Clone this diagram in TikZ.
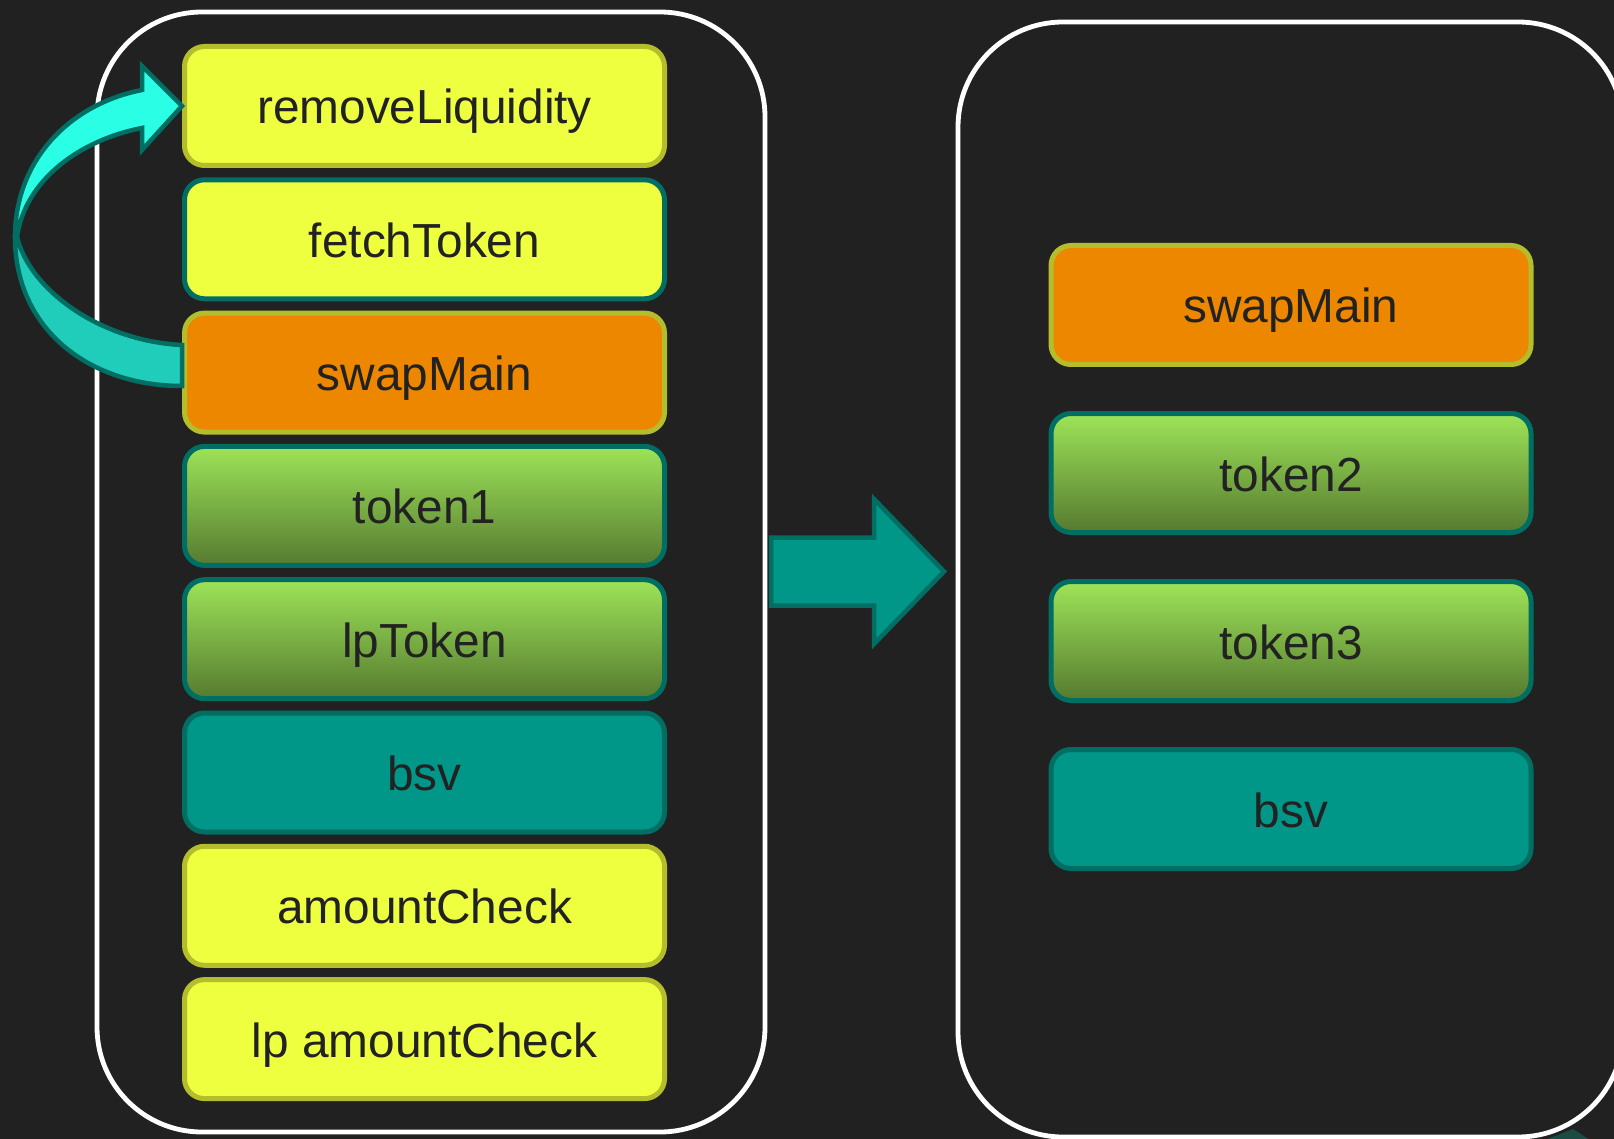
\documentclass[tikz,border=0pt]{standalone}
\usepackage{fontspec}
\setmainfont{Liberation Sans}
\begin{document}
\begin{tikzpicture}[x=1pt,y=-1pt,
  bg/.style={fill={rgb,255:red,33;green,33;blue,33}},
  frame/.style={draw=white,line width=4.8pt,rounded corners=105pt},
  block/.style={rectangle,rounded corners=20pt,line width=5pt,
    minimum width=480pt,minimum height=119pt,inner sep=0pt,
    text height=36pt,text depth=0pt,text=txt,
    font=\fontsize{47.8}{57}\selectfont},
  yel/.style={block,fill=ylw,draw=olv},
  yelt/.style={block,fill=ylw,draw=tealdk},
  org/.style={block,fill=orng,draw=olv},
  grn/.style={block,top color=grnhi,bottom color=grnlo,draw=tealdk},
  tea/.style={block,fill=tealmd,draw=tealdk},
  arrowline/.style={draw=tealdk,line width=4.5pt,line join=miter}
]
\definecolor{txt}{RGB}{34,34,34}
\definecolor{ylw}{RGB}{238,255,64}
\definecolor{olv}{RGB}{180,190,45}
\definecolor{orng}{RGB}{237,135,0}
\definecolor{grnhi}{RGB}{157,228,88}
\definecolor{grnlo}{RGB}{86,122,48}
\definecolor{tealmd}{RGB}{0,150,136}
\definecolor{tealdk}{RGB}{0,110,98}
\definecolor{cyanhi}{RGB}{42,255,230}
\definecolor{cyanlo}{RGB}{32,204,186}
\definecolor{tealsh}{RGB}{27,75,66}

\useasboundingbox (0,0) rectangle (1614,1139);
\clip (0,0) rectangle (1614,1139);
\path[bg] (0,0) rectangle (1614,1139);

% partial shape at the lower right edge
\fill[tealsh] (1545,1140) -- (1573,1129) -- (1590,1140) -- cycle;

% the two containers
\path[frame] (97,12) rectangle (765,1132);
\path[frame] (958,22) rectangle (1623,1137);

% left stack
\node[yel]  (rl)  at (424.5,106.0) {removeLiquidity};
\node[yelt] (ft)  at (424.5,239.3) {fetchToken};
\node[org]  (sm)  at (424.5,372.6) {swapMain};
\node[grn]  (t1)  at (424.5,505.9) {token1};
\node[grn]  (lpt) at (424.5,639.2) {lpToken};
\node[tea]  (bs)  at (424.5,772.5) {bsv};
\node[yel]  (ac)  at (424.5,905.8) {amountCheck};
\node[yel]  (lac) at (424.5,1039.1) {lp amountCheck};

% right stack
\node[org] (sm2) at (1291,305) {swapMain};
\node[grn] (t2)  at (1291,473) {token2};
\node[grn] (t3)  at (1291,641) {token3};
\node[tea] (bs2) at (1291,809) {bsv};

% block arrow between the containers
\path[arrowline,fill=tealmd]
  (771,537.5) -- (874,537.5) -- (874,499) -- (944,571.5) -- (874,644)
  -- (874,605.5) -- (771,605.5) -- cycle;

% curved arrow from swapMain back up to removeLiquidity
\path[arrowline,fill=cyanlo]
  (15,237) .. controls (15,330) and (90,386) .. (sm.west |- 0,386)
  -- (sm.west |- 0,345)
  .. controls (100,341) and (30,290) .. (17,237) -- cycle;
\path[arrowline,fill=cyanhi]
  (15,237) .. controls (15,160) and (70,104) .. (142,90)
  -- (142,66) -- (rl.west) -- (142,150) -- (142,128)
  .. controls (80,140) and (25,180) .. (17,237) -- cycle;
\end{tikzpicture}
\end{document}
